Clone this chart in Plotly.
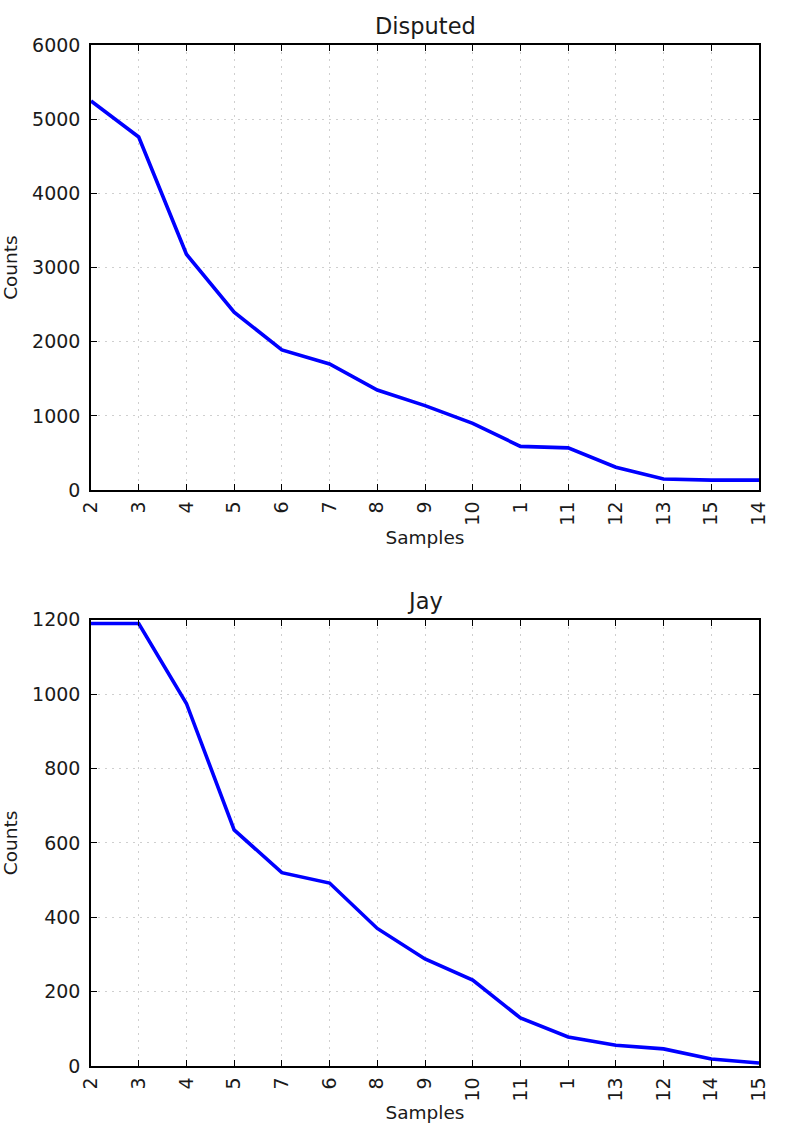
import plotly.graph_objects as go
from plotly.subplots import make_subplots

# Disputed papers: sample word lengths and counts
disputed_samples = ["2", "3", "4", "5", "6", "7", "8", "9", "10", "1", "11", "12", "13", "15", "14"]
disputed_counts = [5245, 4760, 3180, 2400, 1890, 1700, 1350, 1140, 900, 590, 570, 310, 150, 135, 135]

# Jay papers
jay_samples = ["2", "3", "4", "5", "7", "6", "8", "9", "10", "11", "1", "13", "12", "14", "15"]
jay_counts = [1190, 1190, 975, 635, 520, 492, 370, 288, 231, 129, 78, 56, 46, 19, 8]

font_family = "DejaVu Sans"
txt = "#1a1a1a"

fig = make_subplots(rows=2, cols=1, vertical_spacing=0.127)

fig.add_trace(go.Scatter(x=disputed_samples, y=disputed_counts, mode="lines",
                         line=dict(color="#0000ff", width=3.6)), row=1, col=1)
fig.add_trace(go.Scatter(x=jay_samples, y=jay_counts, mode="lines",
                         line=dict(color="#0000ff", width=3.6)), row=2, col=1)

axis_style = dict(showline=True, linecolor="black", linewidth=1.5, mirror="ticks",
                  ticks="inside", ticklen=6, tickcolor="black", automargin=False,
                  showgrid=True, gridcolor="#cfcfcf", griddash="2px,5px", gridwidth=1,
                  zeroline=False, tickfont=dict(size=19, color=txt, family=font_family))

fig.update_xaxes(axis_style)
fig.update_yaxes(axis_style)
fig.update_xaxes(type="category", tickangle=-90, range=[0, 14], ticklabelstandoff=2)
fig.update_yaxes(ticklabelstandoff=5)
fig.update_yaxes(range=[0, 6000], dtick=1000, row=1, col=1)
fig.update_yaxes(range=[0, 1200], dtick=200, row=2, col=1)
fig.update_xaxes(title=dict(text="Samples", font=dict(size=18.5, color=txt, family=font_family),
                            standoff=6))
fig.update_yaxes(title=dict(text="Counts", font=dict(size=18.5, color=txt, family=font_family),
                            standoff=17))

fig.update_layout(
    width=798, height=1144,
    margin=dict(l=91, r=39, t=45, b=78),
    showlegend=False,
    plot_bgcolor="white", paper_bgcolor="white",
    font=dict(family=font_family, color=txt),
)
fig.layout.yaxis.domain = [0.564, 1.0]
fig.layout.yaxis2.domain = [0.0, 0.437]

fig.add_annotation(text="Disputed", xref="x domain", yref="y domain", x=0.5, y=1.0,
                   yshift=4, yanchor="bottom", showarrow=False,
                   font=dict(size=22.5, color=txt, family=font_family))
fig.add_annotation(text="Jay", xref="x2 domain", yref="y2 domain", x=0.5, y=1.0,
                   yshift=4, yanchor="bottom", showarrow=False,
                   font=dict(size=22.5, color=txt, family=font_family))

# drop the browser's default body margin so the figure sits at the page corner
fig.write_html("out.html", config={"displayModeBar": False},
               post_script="document.body.style.margin = '0';")
